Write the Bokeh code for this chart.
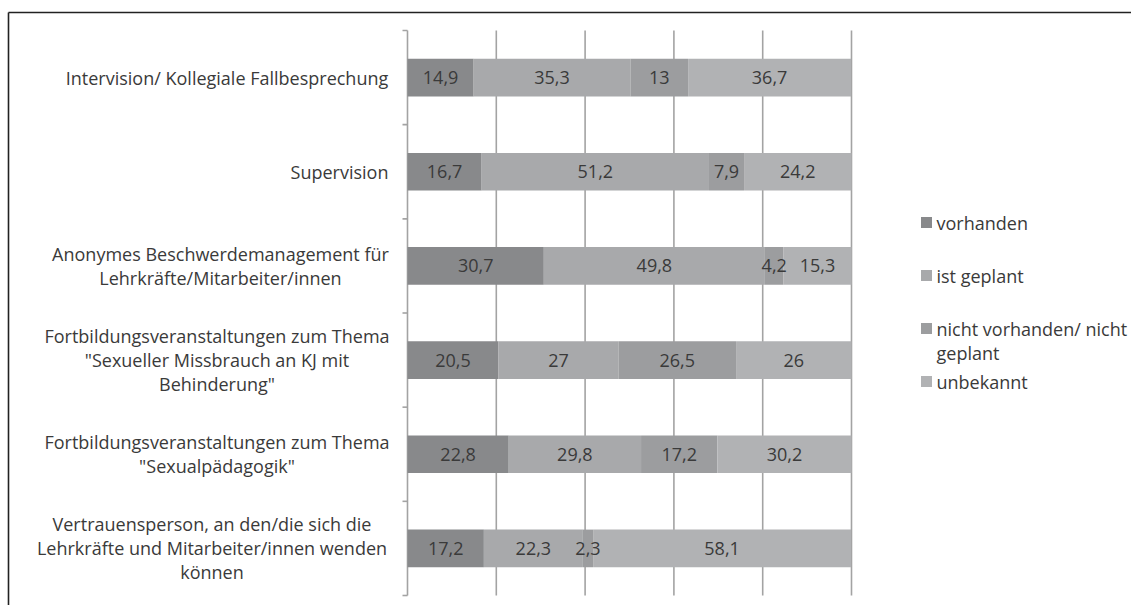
from bokeh.plotting import figure
from bokeh.models import ColumnDataSource, Range1d
from bokeh.core.properties import value
from bokeh.embed import file_html
from bokeh.resources import INLINE

# ---------------- data ----------------
categories = [
    "Intervision/ Kollegiale Fallbesprechung",
    "Supervision",
    "Anonymes Beschwerdemanagement für\nLehrkräfte/Mitarbeiter/innen",
    "Fortbildungsveranstaltungen zum Thema\n\"Sexueller Missbrauch an KJ mit\nBehinderung\"",
    "Fortbildungsveranstaltungen zum Thema\n\"Sexualpädagogik\"",
    "Vertrauensperson, an den/die sich die\nLehrkräfte und Mitarbeiter/innen wenden\nkönnen",
]
series_names = ["vorhanden", "ist geplant", "nicht vorhanden/ nicht\ngeplant", "unbekannt"]
vorhanden = [14.9, 16.7, 30.7, 20.5, 22.8, 17.2]
ist_geplant = [35.3, 51.2, 49.8, 27, 29.8, 22.3]
nicht_vorhanden = [13, 7.9, 4.2, 26.5, 17.2, 2.3]
unbekannt = [36.7, 24.2, 15.3, 26, 30.2, 58.1]
x_ticks = [0, 20, 40, 60, 80, 100]

# ---------------- style / layout ----------------
colors = ["#88898b", "#a8a9ab", "#9c9d9f", "#b1b2b4"]
FONT = "Open Sans"
FS = "18px"
LH = 1.0
TXT = "#3a3a3a"
GRID = "#a3a3a3"
W, H = 1131, 605
AXIS_PX = 407          # canvas x of the 0 % line
FULL_PX = 851          # canvas x of the 100 % line
TOP_PX, BOT_PX = 30, 595
n = len(categories)
ppu_x = (FULL_PX - AXIS_PX) / 100.0
band_px = (BOT_PX - TOP_PX) / n

def xd(px):
    return (px - AXIS_PX) / ppu_x

def yd(py):
    return (py - TOP_PX) / band_px

p = figure(width=W, height=H, output_backend="svg", toolbar_location=None,
           x_range=Range1d(xd(0), xd(W)), y_range=Range1d(yd(H), yd(0)),
           min_border_left=0, min_border_right=0, min_border_top=0, min_border_bottom=0)
p.outline_line_color = None
p.background_fill_color = "white"
p.border_fill_color = "white"
p.xaxis.visible = False
p.yaxis.visible = False
p.xgrid.visible = False
p.ygrid.visible = False

# vertical grid lines (0..100 %)
p.segment(x0=x_ticks, x1=x_ticks, y0=[0] * len(x_ticks), y1=[n] * len(x_ticks),
          line_color=GRID, line_width=1.6)
# category axis tick marks at band boundaries
bounds = list(range(n + 1))
p.segment(x0=[xd(AXIS_PX - 5)] * len(bounds), x1=[0] * len(bounds), y0=bounds, y1=bounds,
          line_color=GRID, line_width=1.6)

# stacked bars
series = [vorhanden, ist_geplant, nicht_vorhanden, unbekannt]
ys = [i + 0.5 for i in range(n)]
left = [0.0] * n
label_sources = []
for vals, col in zip(series, colors):
    right = [l + v for l, v in zip(left, vals)]
    src = ColumnDataSource(dict(y=ys, left=left, right=right,
                                mid=[(l + r) / 2 for l, r in zip(left, right)],
                                lab=[f"{v:g}".replace(".", ",") for v in vals]))
    p.hbar(y="y", left="left", right="right", height=0.4, source=src,
           fill_color=col, line_color=None)
    label_sources.append(src)
    left = right

# value labels on top of all bars
for src in label_sources:
    p.text(x="mid", y="y", text="lab", source=src, text_font=value(FONT),
           text_font_size=FS, text_color=TXT, text_align="center",
           text_baseline="middle")

# category labels (block right-aligned at the axis, lines centred)
label_centers_px = [226.5, 339, 220, 216.5, 216.5, 211.5]
p.text(x=[xd(c) for c in label_centers_px], y=ys, text=categories,
       text_font=value(FONT), text_font_size=FS, text_color=TXT,
       text_align="center", text_baseline="middle", text_line_height=LH)

# legend
leg_y_px = [222, 275, 328, 381]
p.scatter([xd(926)] * len(series_names), [yd(v) for v in leg_y_px], marker="square",
          size=11, fill_color=colors, line_color=None)
p.text([xd(936)] * len(series_names), [yd(v) for v in leg_y_px], text=series_names,
       text_font=value(FONT), text_font_size=FS, text_color=TXT, text_align="left",
       text_baseline="top", y_offset=-12, text_line_height=LH)

# outer frame lines (top and left)
p.segment(x0=[xd(8), xd(8)], x1=[xd(W + 5), xd(8)], y0=[yd(12), yd(12)], y1=[yd(12), yd(H + 5)],
          line_color="#222222", line_width=1.6)

open("out.html", "w").write(file_html(p, INLINE))
